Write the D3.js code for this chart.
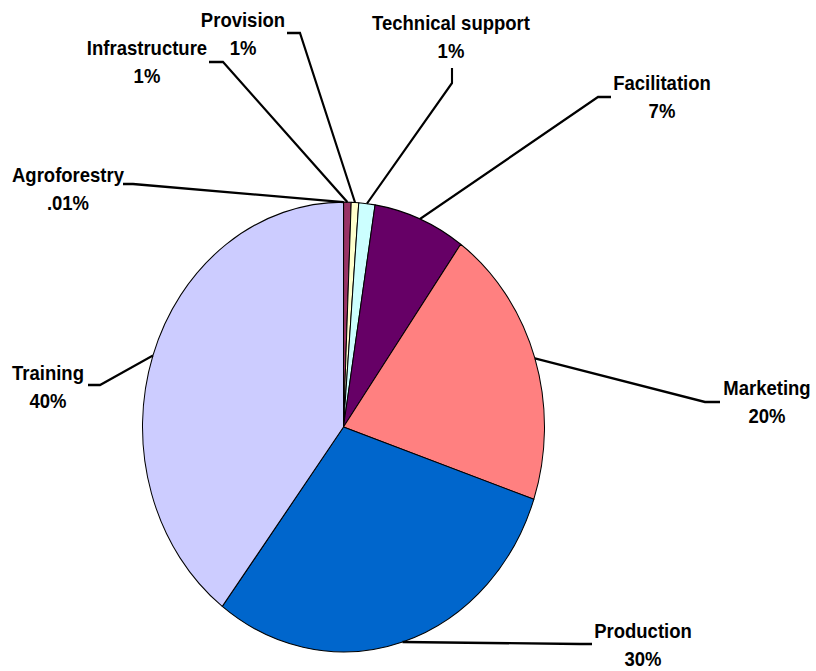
<!DOCTYPE html>
<html>
<head>
<meta charset="utf-8">
<script src="https://cdn.jsdelivr.net/npm/d3@7"></script>
<style>
  html, body { margin: 0; padding: 0; background: #fff; }
  svg { display: block; }
  text { font-family: "Liberation Sans", Arial, sans-serif; font-weight: bold; font-size: 18.5px; fill: #000; }
</style>
</head>
<body>
<svg id="chart" width="816" height="671"></svg>
<script>
// Activity categories, in drawing order clockwise from 12 o'clock
const categories = ["Agroforestry", "Infrastructure", "Provision", "Technical support",
                    "Facilitation", "Marketing", "Production", "Training"];
// Share of activities (%)
const shares = [0.01, 0.6, 0.6, 1.3, 7.4, 20.3, 30.1, 39.7];
// Slice colours
const colors = ["#9999FF", "#993366", "#FFFFCC", "#CCFFFF", "#660066", "#FF8080", "#0066CC", "#CCCCFF"];

// Label layout (page pixels): text centre x, baseline of first line,
// leader end point and leader knee point
const labelX     = [68, 147, 243, 451, 662, 767, 643, 48];
const labelY     = [182, 55, 27, 30, 90, 395, 638, 380];
const leaderEnd  = [[123, 184], [209, 62], [287, 33], [452, 68], [611, 97], [720, 402], [592, 644], [88, 385]];
const leaderKnee = [[133, 184], [223, 62], [300, 33], [452, 83], [598, 97], [705, 402], [580, 644], [100, 385]];

const cx = 343.5, cy = 427;      // pie centre (page pixels)
const r = 201;                   // horizontal radius
const sy = 1.119;                // vertical stretch of the drawing
const lineGap = 28;              // distance between label lines

const svg = d3.select("#chart");
const root = svg.append("g").attr("transform", `scale(1, ${sy})`);

const total = d3.sum(shares);
const fmt = v => {
  const p = v / total * 100;
  return p < 0.1 ? d3.format(".2f")(p).replace(/^0/, "") + "%" : Math.round(p) + "%";
};

const pie = d3.pie().sort(null).value(d => d)(shares);
const arc = d3.arc().innerRadius(0).outerRadius(r);
const edge = d3.arc().innerRadius(r).outerRadius(r);

const pieG = root.append("g").attr("transform", `translate(${cx}, ${cy / sy})`);
pieG.selectAll("path.slice")
  .data(pie)
  .join("path")
  .attr("class", "slice")
  .attr("d", arc)
  .attr("fill", (d, i) => colors[i])
  .attr("stroke", "#000")
  .attr("stroke-width", 1)
  .attr("stroke-linejoin", "round");

// Leader lines from each slice's outer edge to its label
const line = d3.line();
root.selectAll("path.leader")
  .data(pie)
  .join("path")
  .attr("class", "leader")
  .attr("fill", "none")
  .attr("stroke", "#000")
  .attr("stroke-width", 2.1)
  .attr("d", (d, i) => {
    const c = edge.centroid(d);
    const start = [cx + c[0], cy / sy + c[1]];
    const knee = [leaderKnee[i][0], leaderKnee[i][1] / sy];
    const end = [leaderEnd[i][0], leaderEnd[i][1] / sy];
    return line([start, knee, end]);
  });

// Two-line labels: name and share
const labels = root.selectAll("g.label")
  .data(pie)
  .join("g")
  .attr("class", "label");
labels.append("text")
  .attr("x", (d, i) => labelX[i])
  .attr("y", (d, i) => labelY[i] / sy)
  .attr("text-anchor", "middle")
  .text((d, i) => categories[i]);
labels.append("text")
  .attr("x", (d, i) => labelX[i])
  .attr("y", (d, i) => (labelY[i] + lineGap) / sy)
  .attr("text-anchor", "middle")
  .text(d => fmt(d.data));
</script>
</body>
</html>
